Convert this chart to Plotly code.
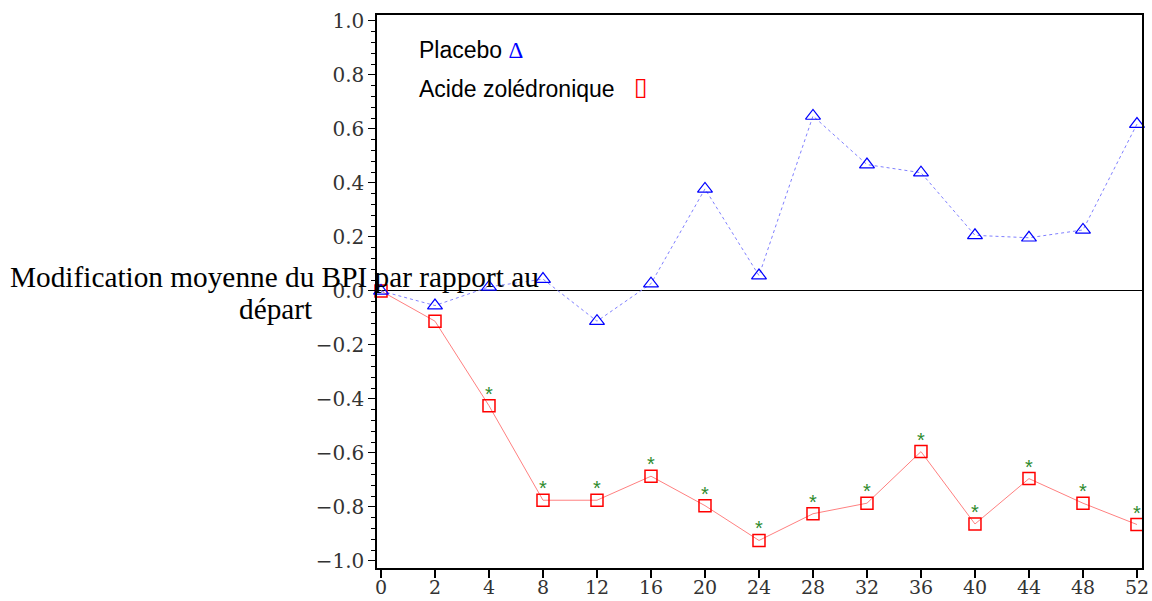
import plotly.graph_objects as go

weeks = ["0", "2", "4", "8", "12", "16", "20", "24", "28", "32", "36", "40", "44", "48", "52"]
placebo = [0.0, -0.054, 0.015, 0.044, -0.112, 0.027, 0.378, 0.057, 0.648, 0.468, 0.438, 0.206, 0.197, 0.226, 0.618]
zoledronic = [0.0, -0.112, -0.425, -0.775, -0.775, -0.686, -0.795, -0.924, -0.825, -0.786, -0.595, -0.863, -0.695, -0.786, -0.865]
significant = [False, False, True, True, True, True, True, True, True, True, True, True, True, True, True]
y_ticks = [-1.0, -0.8, -0.6, -0.4, -0.2, 0.0, 0.2, 0.4, 0.6, 0.8, 1.0]

W, H = 1152, 601
L, R, T, B = 377, 1142, 15, 568
pw, ph = R - L, B - T


def px(x):
    return (x - L) / pw


def py(y):
    return (B - y) / ph


fig = go.Figure()

fig.add_trace(go.Scatter(
    x=weeks, y=zoledronic, mode="lines+markers",
    line=dict(color="#ff8080", width=1),
    marker=dict(symbol="square-open", size=12, color="#ff0000", line=dict(width=1.5, color="#ff0000")),
    showlegend=False, cliponaxis=False,
))

fig.add_trace(go.Scatter(
    x=[w for w, s in zip(weeks, significant) if s],
    y=[v for v, s in zip(zoledronic, significant) if s],
    mode="text", text="*", textposition="top center",
    textfont=dict(color="#2e8b2e", size=20, family="Liberation Sans"),
    showlegend=False, cliponaxis=False, hoverinfo="skip",
))

fig.add_trace(go.Scatter(
    x=weeks, y=placebo, mode="lines+markers",
    line=dict(color="#8080ff", width=1, dash="3px,3px"),
    marker=dict(symbol="triangle-up-open", size=13, color="#0000ff", line=dict(width=1.2, color="#0000ff")),
    showlegend=False, cliponaxis=False,
))

tickfont = dict(family="DejaVu Serif", size=20, color="#333333")

fig.update_layout(
    width=W, height=H,
    margin=dict(l=L, r=W - R, t=T, b=H - B, autoexpand=False),
    plot_bgcolor="white", paper_bgcolor="white",
    showlegend=False,
    xaxis=dict(
        type="category", categoryorder="array", categoryarray=weeks,
        range=[-0.074, 14.093], automargin=False,
        showline=True, linecolor="black", linewidth=1.5, mirror=True,
        ticks="outside", ticklen=8, tickcolor="black", tickwidth=1.5,
        ticklabelstandoff=-7,
        showgrid=False, zeroline=False,
        tickfont=dict(family="DejaVu Serif", size=19, color="#333333"),
    ),
    yaxis=dict(
        range=[-1.026, 1.022], automargin=False,
        tickvals=y_ticks, ticktext=[f"{v:.1f}".replace("-", "\u2212") for v in y_ticks],
        showline=True, linecolor="black", linewidth=1.5, mirror=True,
        ticks="outside", ticklen=7, tickcolor="black", tickwidth=1.2,
        minor=dict(ticks="outside", ticklen=4, dtick=0.04, tick0=0, tickcolor="black", tickwidth=1),
        showgrid=False,
        zeroline=True, zerolinecolor="black", zerolinewidth=1.2,
        tickfont=tickfont,
    ),
    annotations=[
        dict(
            text="Modification moyenne du BPI par rapport au",
            xref="paper", yref="paper", x=px(274), y=py(277),
            xanchor="center", yanchor="middle", showarrow=False,
            font=dict(family="Liberation Serif", size=29.3, color="black"),
        ),
        dict(
            text="départ",
            xref="paper", yref="paper", x=px(275), y=py(309),
            xanchor="center", yanchor="middle", showarrow=False,
            font=dict(family="Liberation Serif", size=29.3, color="black"),
        ),
        dict(
            text="Placebo <span style='color:#0000ff; font-family:Liberation Serif'>Δ</span>",
            xref="paper", yref="paper", x=px(417), y=py(50),
            xanchor="left", yanchor="middle", showarrow=False,
            font=dict(family="Liberation Sans", size=23, color="black"),
        ),
        dict(
            text="Acide zolédronique",
            xref="paper", yref="paper", x=px(417), y=py(89),
            xanchor="left", yanchor="middle", showarrow=False,
            font=dict(family="Liberation Sans", size=23, color="black"),
        ),
        dict(
            text="▯",
            xref="paper", yref="paper", x=px(641), y=py(87),
            xanchor="center", yanchor="middle", showarrow=False,
            font=dict(family="DejaVu Sans", size=25, color="#ff0000"),
        ),
    ],
)

fig.write_html(
    "out.html",
    config={"displayModeBar": False},
    post_script="document.body.style.margin='0px';",
)
